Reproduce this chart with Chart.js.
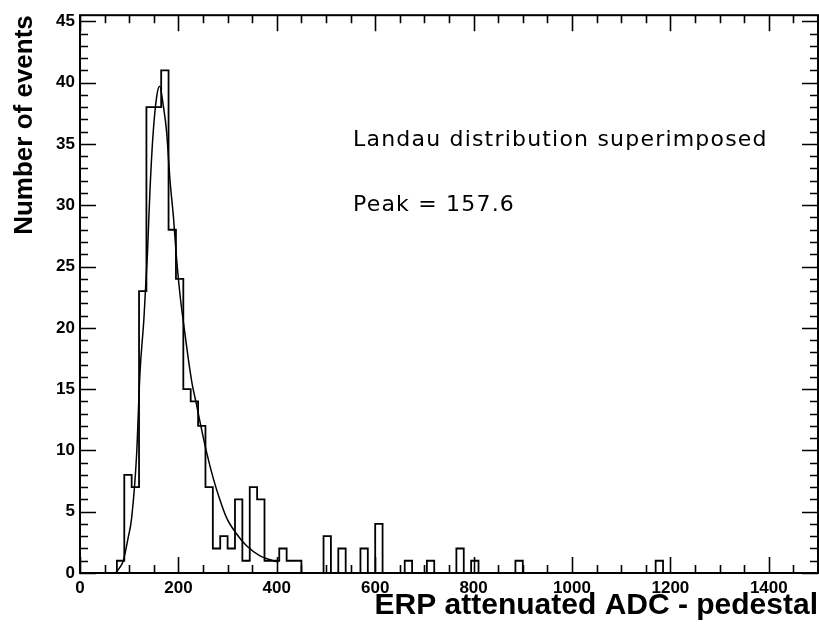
<!DOCTYPE html>
<html>
<head>
<meta charset="utf-8">
<script src="https://cdn.jsdelivr.net/npm/chart.js@4.4.1/dist/chart.umd.min.js"></script>
<style>
  html, body { margin: 0; padding: 0; background: #fff; }
  #wrap { width: 819px; height: 625px; position: relative; }
</style>
</head>
<body>
<div id="wrap"><canvas id="chart"></canvas></div>
<script>
// histogram: 100 bins of 15 ADC counts from 0 to 1500
const binWidth = 15;
const binCounts = [
  0, 0, 0, 0, 0, 1, 8, 7, 23, 38,      //    0 - 150
  38, 41, 28, 24, 15, 14, 12, 7, 2, 3, //  150 - 300
  2, 6, 1, 7, 6, 1, 1, 2, 1, 1,        //  300 - 450
  0, 0, 0, 3, 0, 2, 0, 0, 2, 0,        //  450 - 600
  4, 0, 0, 0, 1, 0, 0, 1, 0, 0,        //  600 - 750
  0, 2, 0, 1, 0, 0, 0, 0, 0, 1,        //  750 - 900
  0, 0, 0, 0, 0, 0, 0, 0, 0, 0,        //  900 - 1050
  0, 0, 0, 0, 0, 0, 0, 0, 1, 0,        // 1050 - 1200
  0, 0, 0, 0, 0, 0, 0, 0, 0, 0,        // 1200 - 1350
  0, 0, 0, 0, 0, 0, 0, 0, 0, 0         // 1350 - 1500
];

// Landau fit
const landauX = [72, 80, 88, 98, 105, 115, 122, 130, 137, 142, 148, 156, 162, 169, 176, 183, 190, 196, 203, 211, 220, 228, 236, 244, 257, 271, 285, 298, 318, 339, 366, 393, 403];
const landauY = [0, 0.4, 1.0, 2.9, 4.5, 9.6, 16.4, 20.8, 26, 31, 35.5, 38.9, 39.7, 38.2, 36, 32, 29, 25.8, 22.8, 20.2, 17.5, 15.4, 13.9, 12.3, 9.9, 7.7, 5.9, 4.5, 3.2, 2.2, 1.4, 1.0, 0.9];

const xTickLabels = [0, 200, 400, 600, 800, 1000, 1200, 1400];
const yTickLabels = [0, 5, 10, 15, 20, 25, 30, 35, 40, 45];

const xTitle = 'ERP attenuated ADC - pedestal';
const yTitle = 'Number of events';
const noteLines = ['Landau distribution superimposed', 'Peak = 157.6'];

// stepped outline points: one per bin edge
const histPoints = binCounts.map((c, i) => ({ x: i * binWidth, y: c }));
histPoints.push({ x: binCounts.length * binWidth, y: 0 });

const landauPoints = landauX.map((x, i) => ({ x: x, y: landauY[i] }));

const boldFont = 'Liberation Sans, Arial, Helvetica, sans-serif';

// PAW style frame with inward ticks and the text notes
const framePlugin = {
  id: 'frame',
  afterDraw(chart) {
    const { ctx, chartArea: a, scales: { x, y } } = chart;
    ctx.save();
    ctx.strokeStyle = '#000';
    ctx.lineWidth = 1.6;
    ctx.beginPath();
    for (let v = 0; v <= 1500; v += 50) {
      const px = Math.round(x.getPixelForValue(v)) + 0.5;
      const len = v % 200 === 0 ? 16 : 8;
      ctx.moveTo(px, a.bottom); ctx.lineTo(px, a.bottom - len);
      ctx.moveTo(px, a.top); ctx.lineTo(px, a.top + len);
    }
    for (let v = 0; v <= 45; v += 1) {
      const py = Math.round(y.getPixelForValue(v)) + 0.5;
      const len = v % 5 === 0 ? 16 : 8;
      ctx.moveTo(a.left, py); ctx.lineTo(a.left + len, py);
      ctx.moveTo(a.right, py); ctx.lineTo(a.right - len, py);
    }
    ctx.stroke();
    ctx.lineWidth = 2;
    ctx.strokeRect(a.left, a.top, a.right - a.left, a.bottom - a.top);

    ctx.fillStyle = '#000';
    ctx.font = '22px "DejaVu Sans", sans-serif';
    ctx.letterSpacing = '1.2px';
    ctx.textAlign = 'left';
    ctx.textBaseline = 'alphabetic';
    ctx.fillText(noteLines[0], 353, 146);
    ctx.fillText(noteLines[1], 353, 211);
    ctx.restore();
  }
};

new Chart(document.getElementById('chart'), {
  type: 'line',
  data: {
    datasets: [
      {
        data: histPoints,
        stepped: 'before',
        borderColor: '#000',
        borderWidth: 1.8,
        pointRadius: 0,
        fill: false
      },
      {
        data: landauPoints,
        borderColor: '#000',
        borderWidth: 1.5,
        pointRadius: 0,
        cubicInterpolationMode: 'monotone',
        fill: false
      }
    ]
  },
  options: {
    responsive: true,
    maintainAspectRatio: false,
    animation: false,
    layout: { padding: { top: 9, right: 1, left: 0, bottom: 0 } },
    plugins: {
      legend: { display: false },
      tooltip: { enabled: false }
    },
    scales: {
      x: {
        type: 'linear',
        min: 0,
        max: 1500,
        afterFit: s => { s.height = 52; },
        afterBuildTicks: s => { s.ticks = xTickLabels.map(v => ({ value: v })); },
        grid: { display: false, drawTicks: false },
        border: { display: false },
        ticks: {
          padding: 5,
          color: '#000',
          maxRotation: 0,
          autoSkip: false,
          callback: v => String(v),
          font: { family: boldFont, size: 17, weight: 'bold' }
        },
        title: {
          display: true,
          text: xTitle,
          align: 'end',
          color: '#000',
          padding: { top: 0, bottom: 1 },
          font: { family: boldFont, size: 30, weight: 'bold' }
        }
      },
      y: {
        min: 0,
        max: 45.5,
        afterFit: s => { s.width = 80; },
        afterBuildTicks: s => { s.ticks = yTickLabels.map(v => ({ value: v })); },
        grid: { display: false, drawTicks: false },
        border: { display: false },
        ticks: {
          padding: 5,
          color: '#000',
          autoSkip: false,
          callback: v => String(v),
          font: { family: boldFont, size: 17, weight: 'bold' }
        },
        title: {
          display: true,
          text: yTitle,
          align: 'end',
          color: '#000',
          padding: { top: 9, bottom: 0 },
          font: { family: boldFont, size: 26, weight: 'bold' }
        }
      }
    }
  },
  plugins: [framePlugin]
});
</script>
</body>
</html>
